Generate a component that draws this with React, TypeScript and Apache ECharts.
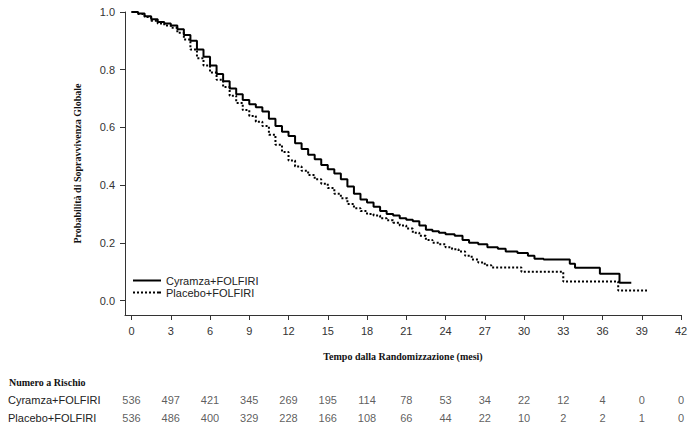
import { useEffect, useRef } from "react";
import * as echarts from "echarts";

const xTicks = [0, 3, 6, 9, 12, 15, 18, 21, 24, 27, 30, 33, 36, 39, 42];
const yTicks = [0, 0.2, 0.4, 0.6, 0.8, 1.0];
const seriesNames = ["Cyramza+FOLFIRI", "Placebo+FOLFIRI"];

const cyramzaCurve = [
  [0, 1.0], [0.5, 0.995], [1.0, 0.985], [1.5, 0.975], [2.0, 0.965], [2.5, 0.96],
  [3.0, 0.953], [3.5, 0.94], [4.0, 0.92], [4.5, 0.9], [5.0, 0.87], [5.5, 0.845],
  [6.0, 0.815], [6.5, 0.785], [7.0, 0.76], [7.5, 0.735], [8.0, 0.715], [8.5, 0.695],
  [9.0, 0.68], [9.5, 0.67], [10.0, 0.655], [10.5, 0.63], [11.0, 0.605], [11.5, 0.585],
  [12.0, 0.57], [12.5, 0.545], [13.0, 0.525], [13.5, 0.505], [14.0, 0.49], [14.5, 0.47],
  [15.0, 0.455], [15.5, 0.44], [16.0, 0.42], [16.5, 0.395], [17.0, 0.37], [17.5, 0.35],
  [18.0, 0.34], [18.5, 0.325], [19.0, 0.31], [19.5, 0.3], [20.0, 0.295], [20.5, 0.285],
  [21.0, 0.28], [21.5, 0.275], [22.0, 0.26], [22.5, 0.245], [23.0, 0.24], [23.5, 0.235],
  [24.0, 0.23], [24.7, 0.225], [25.3, 0.21], [25.8, 0.2], [26.5, 0.195], [27.2, 0.185],
  [28.0, 0.18], [28.6, 0.17], [29.5, 0.165], [30.3, 0.155], [30.8, 0.145], [31.5, 0.142],
  [33.5, 0.128], [33.9, 0.114], [35.8, 0.093], [37.3, 0.062], [38.2, 0.062],
];

const placeboCurve = [
  [0, 1.0], [0.5, 0.993], [1.0, 0.983], [1.5, 0.97], [2.0, 0.96], [2.5, 0.953],
  [3.0, 0.945], [3.5, 0.928], [4.0, 0.905], [4.5, 0.87], [5.0, 0.84], [5.5, 0.815],
  [6.0, 0.79], [6.5, 0.765], [7.0, 0.74], [7.5, 0.71], [8.0, 0.685], [8.5, 0.66],
  [9.0, 0.64], [9.5, 0.62], [10.0, 0.605], [10.5, 0.575], [11.0, 0.54], [11.5, 0.515],
  [12.0, 0.485], [12.5, 0.465], [13.0, 0.45], [13.5, 0.435], [14.0, 0.42], [14.5, 0.405],
  [15.0, 0.39], [15.5, 0.37], [16.0, 0.355], [16.5, 0.335], [17.0, 0.32], [17.5, 0.31],
  [18.0, 0.3], [18.5, 0.295], [19.0, 0.285], [19.5, 0.278], [20.0, 0.27], [20.5, 0.26],
  [21.0, 0.25], [21.5, 0.235], [22.0, 0.225], [22.5, 0.21], [23.0, 0.2], [23.5, 0.195],
  [24.0, 0.185], [24.5, 0.178], [25.0, 0.17], [25.5, 0.155], [26.0, 0.142], [26.5, 0.132],
  [27.0, 0.122], [27.5, 0.115], [29.8, 0.1], [33.0, 0.066], [37.2, 0.035], [39.4, 0.035],
];

const riskTimes = [0, 3, 6, 9, 12, 15, 18, 21, 24, 27, 30, 33, 36, 39, 42];
const cyramzaAtRisk = [536, 497, 421, 345, 269, 195, 114, 78, 53, 34, 22, 12, 4, 0, 0];
const placeboAtRisk = [536, 486, 400, 329, 228, 166, 108, 66, 44, 22, 10, 2, 2, 1, 0];

const solidIcon = "path://M0,0h28v2h-28z";
const dottedIcon =
  "path://M0,0h2v2h-2z M4,0h2v2h-2z M8,0h2v2h-2z M12,0h2v2h-2z M16,0h2v2h-2z M20,0h2v2h-2z M24,0h2v2h-2z M26,0h2v2h-2z";

export default function App() {
  const ref = useRef<HTMLDivElement>(null);
  useEffect(() => {
    const chart = echarts.init(ref.current!, null, { renderer: "svg" });
    const sans = "Liberation Sans, Arial, sans-serif";
    const serif = "Liberation Serif, Times New Roman, serif";
    const axisColor = "#333";
    chart.setOption({
      animation: false,
      title: {
        text: "Numero a Rischio",
        left: 9,
        top: 377,
        padding: 0,
        textStyle: { fontFamily: serif, fontWeight: "bold", fontSize: 10, color: "#111" },
      },
      legend: {
        data: [
          { name: seriesNames[0], icon: solidIcon },
          { name: seriesNames[1], icon: dottedIcon },
        ],
        orient: "vertical",
        left: 133,
        top: 275,
        padding: 0,
        itemWidth: 28,
        itemHeight: 2,
        itemGap: 1,
        selectedMode: false,
        itemStyle: { color: "#000" },
        textStyle: { fontFamily: sans, fontSize: 11, color: "#222" },
      },
      grid: [
        { left: 125, right: 19, top: 12, height: 303 },
        { left: 125, right: 19, top: 391, height: 36 },
      ],
      xAxis: [
        {
          type: "value",
          gridIndex: 0,
          min: -0.5,
          max: 42,
          name: "Tempo dalla Randomizzazione (mesi)",
          nameLocation: "middle",
          nameGap: 36,
          nameTextStyle: { fontFamily: serif, fontWeight: "bold", fontSize: 10, color: "#111" },
          axisLine: { show: true, onZero: false, lineStyle: { color: axisColor, width: 1 } },
          axisTick: { show: true, length: 5, customValues: xTicks, lineStyle: { color: axisColor } },
          axisLabel: {
            customValues: xTicks,
            fontFamily: sans,
            fontSize: 11,
            color: "#333",
            margin: 10,
          },
          splitLine: { show: false },
        },
        { type: "value", gridIndex: 1, min: -0.5, max: 42, show: false },
      ],
      yAxis: [
        {
          type: "value",
          gridIndex: 0,
          min: -0.05,
          max: 1,
          name: "Probabilità di Sopravvivenza Globale",
          nameLocation: "middle",
          nameGap: 43,
          nameTextStyle: { fontFamily: serif, fontWeight: "bold", fontSize: 10, color: "#111" },
          axisLine: { show: true, onZero: false, lineStyle: { color: axisColor, width: 1 } },
          axisTick: { show: true, length: 5, customValues: yTicks, lineStyle: { color: axisColor } },
          axisLabel: {
            customValues: yTicks,
            formatter: (v: number) => v.toFixed(1),
            fontFamily: sans,
            fontSize: 11,
            color: "#333",
            margin: 10,
          },
          splitLine: { show: false },
        },
        {
          type: "category",
          gridIndex: 1,
          data: [seriesNames[1], seriesNames[0]],
          axisLine: { show: false },
          axisTick: { show: false },
          splitLine: { show: false },
          axisLabel: { align: "left", margin: 117, fontFamily: sans, fontSize: 11, color: "#222" },
        },
      ],
      series: [
        {
          name: seriesNames[0],
          type: "line",
          step: "end",
          symbol: "none",
          xAxisIndex: 0,
          yAxisIndex: 0,
          data: cyramzaCurve,
          lineStyle: { color: "#000", width: 2, type: "solid" },
          itemStyle: { color: "#000" },
        },
        {
          name: seriesNames[1],
          type: "line",
          step: "end",
          symbol: "none",
          xAxisIndex: 0,
          yAxisIndex: 0,
          data: placeboCurve,
          lineStyle: { color: "#000", width: 2, type: [2, 2] },
          itemStyle: { color: "#000" },
        },
        {
          name: "risk-c",
          type: "scatter",
          xAxisIndex: 1,
          yAxisIndex: 1,
          silent: true,
          symbolSize: 1,
          itemStyle: { color: "rgba(0,0,0,0)" },
          data: riskTimes.map((t, i) => [t, seriesNames[0], cyramzaAtRisk[i]]),
          label: {
            show: true,
            position: "inside",
            formatter: (p: any) => String(p.value[2]),
            fontFamily: sans,
            fontSize: 11,
            color: "#333",
          },
        },
        {
          name: "risk-p",
          type: "scatter",
          xAxisIndex: 1,
          yAxisIndex: 1,
          silent: true,
          symbolSize: 1,
          itemStyle: { color: "rgba(0,0,0,0)" },
          data: riskTimes.map((t, i) => [t, seriesNames[1], placeboAtRisk[i]]),
          label: {
            show: true,
            position: "inside",
            formatter: (p: any) => String(p.value[2]),
            fontFamily: sans,
            fontSize: 11,
            color: "#333",
          },
        },
      ],
    });
    return () => chart.dispose();
  }, []);
  return (
    <div
      ref={ref}
      style={{ position: "fixed", left: 0, top: 0, width: 700, height: 430, background: "#fff" }}
    />
  );
}
